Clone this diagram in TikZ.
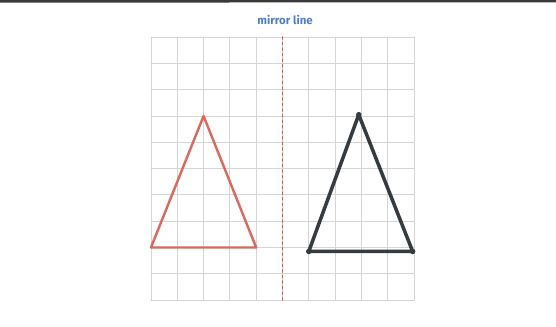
\documentclass[tikz,border=0pt]{standalone}
\usepackage{fontspec}
\usepackage{xcolor}
\newfontfamily\labelfont{Fira Sans}
\usetikzlibrary{calc}
\definecolor{gridgray}{HTML}{D4D4D4}
\definecolor{mirrorred}{HTML}{D2553F}
\definecolor{shapered}{HTML}{D9695C}
\definecolor{shapedark}{HTML}{343C40}
\definecolor{labelblue}{HTML}{4F80C2}
\definecolor{scanedge}{HTML}{3A3A3A}

\begin{document}
\begin{tikzpicture}[x=0.5cm, y=0.5cm, line join=round, line cap=round]
  \useasboundingbox[fill=white] (-5.74,-0.99) rectangle (15.40,11.41);
  \draw[scanedge, line width=1.4pt] (-5.74,11.36) -- (15.40,11.37);
  % squared paper
  \draw[gridgray, line width=0.5pt, step=0.5cm] (0,0) grid (10,10);
  % mirror line
  \coordinate (mtop) at (5,10);
  \coordinate (mbot) at (5,0);
  \draw[mirrorred, line width=1pt, dotted] (mtop) -- (mbot);
  \node[labelblue, font=\labelfont\bfseries\fontsize{6.2}{7}\selectfont, above=1pt] (lbl) at (5.1,10.15) {mirror line};
  % original shape
  \coordinate (ra) at (2,7);
  \coordinate (rb) at (0,2);
  \coordinate (rc) at (4,2);
  \draw[shapered, line width=1.3pt] (ra) -- (rb) -- (rc) -- cycle;
  % its reflection
  \coordinate (ka) at (7.9,7.05);
  \coordinate (kb) at (6,1.85);
  \coordinate (kc) at (9.95,1.85);
  \draw[shapedark, line width=1.9pt] (ka) -- (kb) -- (kc) -- cycle;
  \foreach \p in {ka,kb,kc}
    \fill[shapedark] (\p) circle (1.5pt);
\end{tikzpicture}
\end{document}
